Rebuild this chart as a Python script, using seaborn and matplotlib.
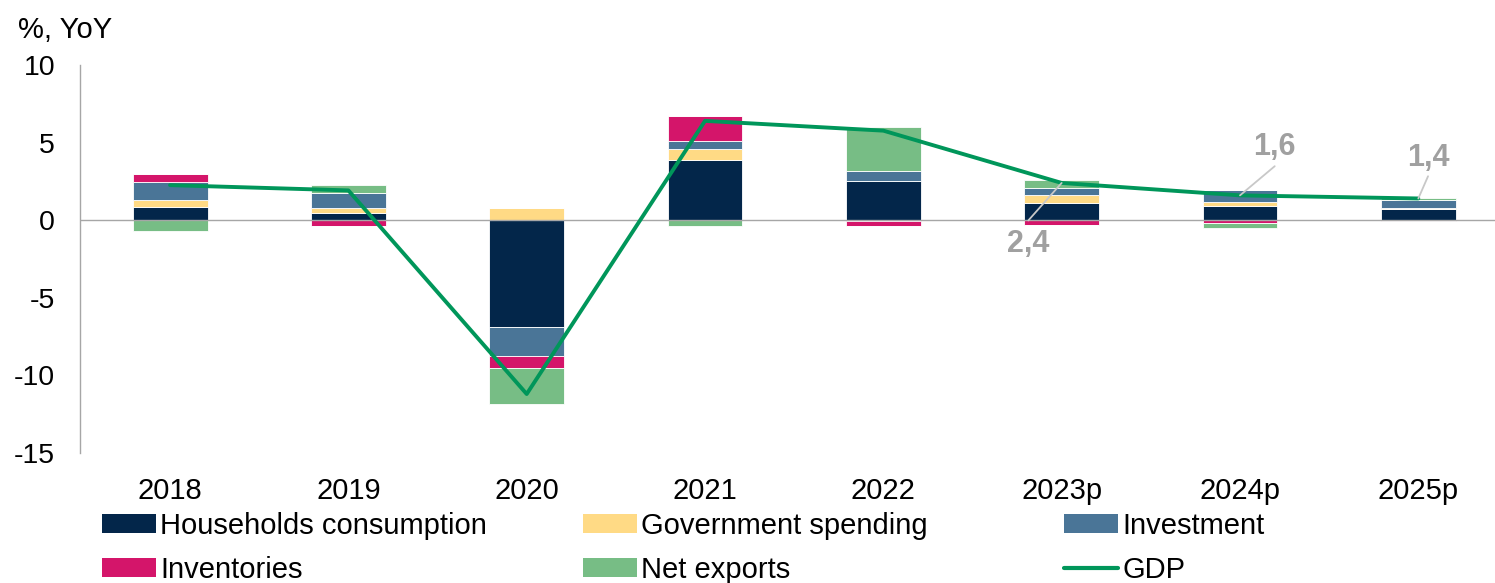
import numpy as np
import pandas as pd
import matplotlib
matplotlib.use("Agg")
import matplotlib.pyplot as plt
import seaborn as sns
from matplotlib.patches import Patch
from matplotlib.lines import Line2D

years = ["2018", "2019", "2020", "2021", "2022", "2023p", "2024p", "2025p"]
households = [0.87, 0.49, -6.9, 3.9, 2.55, 1.13, 0.92, 0.70]
government = [0.40, 0.32, 0.80, 0.67, -0.05, 0.47, 0.27, 0.10]
investment = [1.20, 0.96, -1.83, 0.56, 0.60, 0.49, 0.73, 0.47]
inventories = [0.50, -0.37, -0.82, 1.60, -0.30, -0.30, -0.15, -0.05]
net_exports = [-0.70, 0.47, -2.30, -0.35, 2.85, 0.47, -0.37, 0.15]
gdp = [2.26, 1.92, -11.2, 6.4, 5.77, 2.4, 1.6, 1.4]
gdp_labels = {5: "2,4", 6: "1,6", 7: "1,4"}

series_names = ["Households consumption", "Government spending", "Investment",
                "Inventories", "Net exports"]
series_vals = [households, government, investment, inventories, net_exports]
colors = ["#03264A", "#FFDA85", "#4A7597", "#D4156A", "#77BD85"]
gdp_color = "#00965A"

sns.set_theme(style="white")
plt.rcParams["font.family"] = ["Liberation Sans", "DejaVu Sans"]
plt.rcParams["text.color"] = "black"

fig = plt.figure(figsize=(14.95, 5.83), dpi=100)
ax = fig.add_axes([80 / 1495, 1 - 453 / 583, 1 - 80 / 1495, (453 - 65) / 583])

pos_base = np.zeros(len(years))
neg_base = np.zeros(len(years))
for name, vals, col in zip(series_names, series_vals, colors):
    v = np.array(vals, dtype=float)
    pos = np.where(v > 0, v, 0.0)
    neg = np.where(v < 0, v, 0.0)
    for part, base in ((pos, pos_base), (neg, neg_base)):
        d = pd.DataFrame({"year": years, "val": part})
        sns.barplot(data=d, x="year", y="val", bottom=base.copy(), color=col,
                    width=0.42, saturation=1, edgecolor="white", linewidth=0.6,
                    ax=ax, errorbar=None)
    pos_base += pos
    neg_base += neg

sns.lineplot(x=np.arange(len(years)), y=gdp, color=gdp_color, linewidth=2.8,
             ax=ax, zorder=5)

ax.axhline(0, color="#A6A6A6", linewidth=1.0, zorder=1)
ax.set_ylim(-15, 10)
ax.set_xlim(-0.505, 7.43)
ax.set_yticks([10, 5, 0, -5, -10, -15])
ax.set_yticklabels(["10", "5", "0", "-5", "-10", "-15"])
ax.set_xticks(range(len(years)))
ax.set_xticklabels(years)
ax.tick_params(axis="y", length=0, pad=18, labelsize=20.5, labelcolor="black")
ax.tick_params(axis="x", length=0, pad=17, labelsize=21, labelcolor="black")
ax.set_xlabel("")
ax.set_ylabel("")
for s in ["top", "right", "bottom"]:
    ax.spines[s].set_visible(False)
ax.spines["left"].set_color("#A6A6A6")
ax.spines["left"].set_linewidth(1.0)

# GDP data labels with leader lines
offsets = {5: ((-24, -27), (-24, -44)), 6: ((25, 21), (25, 35)), 7: ((7, 16), (7, 29))}
for i, txt in gdp_labels.items():
    (lx, ly), (tx, ty) = offsets[i]
    ax.annotate("", xy=(i, gdp[i]), xytext=(lx, ly), textcoords="offset points",
                arrowprops=dict(arrowstyle="-", color="#C8C8C8", lw=1.3,
                                shrinkA=0, shrinkB=0), zorder=6)
    ax.annotate(txt, xy=(i, gdp[i]), xytext=(tx, ty), textcoords="offset points",
                ha="center", va="center", fontsize=22, fontweight="bold",
                color="#A0A0A0", zorder=6)

fig.text(18 / 1495, 1 - 30 / 583, "%, YoY", fontsize=21, va="center", ha="left",
         color="black")

# Legend: three columns placed like the reference
handles = [Patch(facecolor=c, edgecolor="none") for c in colors]
gdp_handle = Line2D([0], [0], color=gdp_color, linewidth=3)
cols = [
    ([handles[0], handles[3]], [series_names[0], series_names[3]], 102),
    ([handles[1], handles[4]], [series_names[1], series_names[4]], 583),
    ([handles[2], gdp_handle], [series_names[2], "GDP"], 1064),
]
for hs, ls, xpx in cols:
    fig.legend(hs, ls, loc="upper left",
               bbox_to_anchor=(xpx / 1495, 1 - 512 / 583),
               frameon=False, fontsize=21, handlelength=1.85,
               handleheight=0.62, handletextpad=0.15, labelspacing=0.55,
               borderpad=0, borderaxespad=0, labelcolor="black")

fig.savefig("out.png", dpi=100)
